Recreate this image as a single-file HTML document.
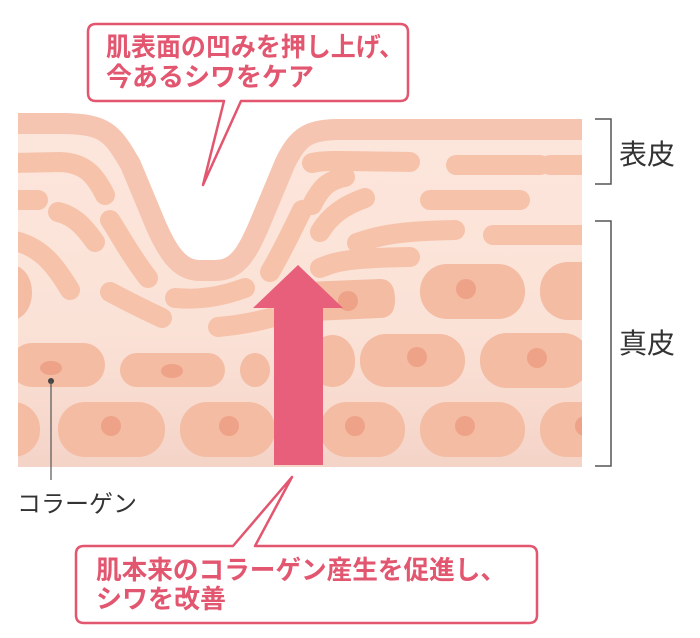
<!DOCTYPE html>
<html><head><meta charset="utf-8"><style>
html,body{margin:0;padding:0;background:#fff;width:700px;height:638px;overflow:hidden}
svg{display:block}
text{font-family:"Liberation Sans","Noto Sans CJK JP",sans-serif}
</style></head><body>
<svg width="700" height="638" viewBox="0 0 700 638" xmlns="http://www.w3.org/2000/svg">
<defs>
<linearGradient id="g" x1="0" y1="0" x2="0" y2="1">
<stop offset="0" stop-color="#fce6dc"/><stop offset="0.6" stop-color="#fbe2d7"/><stop offset="1" stop-color="#f4d2c6"/>
</linearGradient>
<clipPath id="skin"><path d="M18,113 L60,113 C110,113 120,125 140,160 L165,220 C180,255 190,260 200,260 L215,260 C230,260 237,250 250,220 L275,160 C290,128 305,119 340,119 L582,119 L582,467 L18,467 Z"/></clipPath>
</defs>
<g clip-path="url(#skin)">
<rect x="0" y="100" width="600" height="380" fill="url(#g)"/>
<path d="M0,113 L60,113 C110,113 120,125 140,160 L165,220 C180,255 190,260 200,260 L215,260 C230,260 237,250 250,220 L275,160 C290,128 305,119 340,119 L600,119" fill="none" stroke="#f6c5b2" stroke-width="42"/>
<g fill="none" stroke="#f6c3aa" stroke-width="20" stroke-linecap="round">
<path d="M10,163 L60,162 C85,163 95,175 105,195"/>
<path d="M10,200 L38,200"/>
<path d="M58,212 C75,216 85,228 95,242"/>
<path d="M10,240 C40,245 55,265 70,290"/>
<path d="M110,220 C120,235 130,255 148,278"/>
<path d="M110,292 C125,300 145,310 162,318"/>
<path d="M175,298 C200,300 220,297 245,288"/>
<path d="M218,327 C240,325 255,322 270,318"/>
<path d="M270,272 C280,255 290,235 302,210"/>
<path d="M312,205 C322,185 330,180 345,177"/>
<path d="M320,232 C330,215 345,205 365,198"/>
<path d="M312,163 C325,160 340,161 410,162"/>
<path d="M357,243 C380,235 400,231 455,230"/>
<path d="M430,200 L520,200"/>
<path d="M456,165 L540,165"/>
<path d="M550,165 L600,165"/>
<path d="M493,235 L600,235"/>
<path d="M320,268 C335,262 345,258 410,257"/>
</g>
<g fill="#f3bca3">
<rect x="-10" y="265" width="42" height="55" rx="27"/>
<path d="M305,282 L380,279 Q395,279 395,300 Q395,318 380,318 L290,322 L290,285 Z"/>
<rect x="420" y="264" width="105" height="55" rx="27"/>
<rect x="540" y="262" width="80" height="58" rx="28"/>
<rect x="10" y="343" width="95" height="44" rx="22"/>
<rect x="120" y="353" width="105" height="34" rx="17"/>
<rect x="240" y="353" width="30" height="34" rx="17"/>
<rect x="310" y="335" width="45" height="52" rx="25"/>
<rect x="360" y="334" width="105" height="53" rx="26"/>
<rect x="480" y="333" width="110" height="55" rx="27"/>
<rect x="-20" y="402" width="60" height="55" rx="27"/>
<rect x="58" y="402" width="107" height="55" rx="27"/>
<rect x="180" y="402" width="95" height="55" rx="27"/>
<rect x="320" y="402" width="85" height="55" rx="27"/>
<rect x="420" y="402" width="105" height="55" rx="27"/>
<rect x="540" y="402" width="80" height="55" rx="27"/>
</g>
<g fill="#eea288">
<ellipse cx="51" cy="368" rx="11" ry="7"/>
<ellipse cx="172" cy="371" rx="11" ry="7"/>
<circle cx="348" cy="301" r="10"/>
<circle cx="466" cy="289" r="10"/>
<circle cx="417" cy="357" r="10"/>
<circle cx="537" cy="358" r="10"/>
<circle cx="111" cy="426" r="10"/>
<circle cx="229" cy="426" r="10"/>
<circle cx="355" cy="426" r="10"/>
<circle cx="465" cy="426" r="10"/>
<circle cx="585" cy="426" r="10"/>
</g>
</g>
<path d="M274,465 L274,308 L253,308 L298,265 L343,308 L323,308 L323,465 Z" fill="#e75f7b"/>
<circle cx="51" cy="381" r="3" fill="#444"/>
<line x1="51" y1="381" x2="51" y2="480" stroke="#555" stroke-width="1.2"/>
<text x="17" y="512" font-size="24" fill="#333">コラーゲン</text>
<path d="M595,119 L611,119 L611,184 L595,184" fill="none" stroke="#555" stroke-width="1.5"/>
<path d="M595,221 L611,221 L611,466 L595,466" fill="none" stroke="#555" stroke-width="1.5"/>
<text x="619" y="164" font-size="28" fill="#333">表皮</text>
<text x="619" y="353" font-size="28" fill="#333">真皮</text>
<path d="M96,24 L400,24 Q408,24 408,32 L408,93 Q408,101 400,101 L241,101 L203,185 L224,101 L96,101 Q88,101 88,93 L88,32 Q88,24 96,24 Z" fill="#fff" stroke="#e2566f" stroke-width="2.5" stroke-linejoin="round"/>
<text x="106" y="56" font-size="26" font-weight="bold" fill="#e2566f" textLength="298" lengthAdjust="spacingAndGlyphs">肌表面の凹みを押し上げ、</text>
<text x="106" y="86" font-size="26" font-weight="bold" fill="#e2566f">今あるシワをケア</text>
<path d="M84,546 L233,546 L292,477 L255,546 L529,546 Q537,546 537,554 L537,615 Q537,623 529,623 L84,623 Q76,623 76,615 L76,554 Q76,546 84,546 Z" fill="#fff" stroke="#e2566f" stroke-width="2.5" stroke-linejoin="round"/>
<text x="96" y="579" font-size="26" font-weight="bold" fill="#e2566f" textLength="410" lengthAdjust="spacingAndGlyphs">肌本来のコラーゲン産生を促進し、</text>
<text x="96" y="608" font-size="26" font-weight="bold" fill="#e2566f">シワを改善</text>
</svg>
</body></html>
